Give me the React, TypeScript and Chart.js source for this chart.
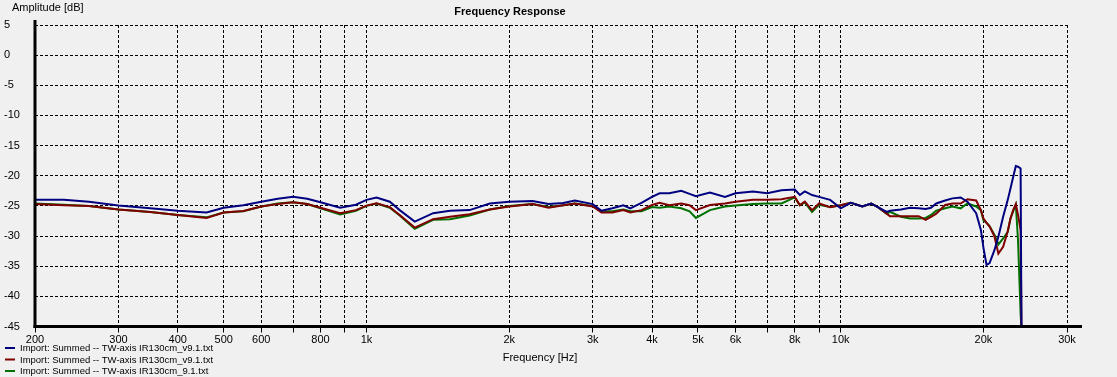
import React, { useEffect, useRef } from 'react';
import { Chart, registerables } from 'chart.js';

Chart.register(...registerables);

const freqs = [
  200, 230, 260, 300, 350, 400, 460, 500, 550, 600, 650, 700, 750, 800, 880, 950,
  1000, 1050, 1120, 1175, 1264, 1382, 1500, 1650, 1820, 2000, 2240, 2420, 2600, 2750,
  3000, 3130, 3300, 3480, 3600, 3800, 4000, 4150, 4350, 4610, 4800, 4950, 5300, 5700,
  6000, 6530, 7000, 7500, 8000, 8200, 8400, 8700, 9000, 9500, 10000, 10500, 11100, 11600,
  12000, 12500, 12700, 13400, 14000, 14600, 15100, 15500, 15900, 16600, 17200, 17900,
  18500, 19300, 19750, 20000, 20300, 20600, 21100, 21500, 22000, 22500, 22800, 23100,
  23400, 23650, 23950, 24050,
];

const blueDb = [
  -24.0, -24.0, -24.3, -24.95, -25.4, -25.8, -26.1, -25.3, -24.9, -24.3, -23.8, -23.5, -23.8, -24.4, -25.3, -24.8,
  -24.0, -23.6, -24.3, -25.7, -27.6, -26.2, -25.8, -25.7, -24.6, -24.3, -24.2, -24.7, -24.5, -24.1,
  -24.7, -25.8, -25.4, -24.9, -25.4, -24.5, -23.5, -22.9, -22.9, -22.5, -23.0, -23.4, -22.8, -23.5,
  -22.9, -22.6, -22.9, -22.4, -22.3, -23.2, -22.6, -23.2, -23.5, -24.0, -25.4, -24.5, -25.1, -24.6,
  -25.25, -26.0, -25.8, -25.6, -25.3, -25.4, -25.5, -25.3, -24.6, -24.1, -23.75, -23.6,
  -24.3, -26.2, -29.0, -32.0, -34.8, -34.5, -32.3, -30.1, -26.8, -24.0, -22.1, -20.2,
  -18.4, -18.5, -18.8, -45.5,
];

const redDb = [
  -24.7, -24.9, -25.0, -25.6, -26.0, -26.5, -27.0, -26.1, -25.85, -25.1, -24.7, -24.4, -24.7, -25.3, -26.2, -25.7,
  -24.95, -24.55, -25.2, -26.5, -28.6, -27.2, -26.8, -26.4, -25.6, -25.1, -24.7, -25.3, -24.9, -24.6,
  -25.1, -26.1, -26.1, -25.7, -26.1, -25.7, -24.85, -24.5, -24.9, -24.6, -24.9, -25.7, -24.85, -24.6,
  -24.3, -24.0, -24.0, -23.9, -23.5, -24.85, -24.3, -25.7, -24.6, -25.2, -24.9, -24.5, -25.1, -24.6,
  -25.25, -26.3, -26.7, -26.7, -26.7, -26.7, -27.3, -26.8, -26.3, -24.85, -24.6, -24.6,
  -23.9, -24.1, -25.7, -27.1, -27.8, -28.4, -30.1, -32.9, -31.8, -29.2, -27.1, -25.7,
  -24.7, -26.5, -29.0, -45.5,
];

const greenDb = [
  -24.6, -24.8, -25.0, -25.6, -26.0, -26.5, -26.9, -26.1, -25.9, -25.1, -24.6, -24.4, -24.7, -25.4, -26.4, -25.8,
  -25.0, -24.6, -25.3, -26.6, -28.8, -27.3, -27.2, -26.6, -25.6, -25.0, -24.7, -25.2, -24.9, -24.6,
  -25.0, -25.9, -25.9, -25.6, -25.9, -25.9, -25.2, -25.3, -25.1, -25.4, -25.9, -27.0, -25.7, -25.1,
  -24.95, -24.7, -24.6, -24.6, -23.6, -24.9, -24.4, -26.0, -24.8, -25.2, -24.9, -24.5, -25.1, -24.6,
  -25.25, -26.3, -26.0, -26.8, -27.1, -27.1, -27.0, -26.5, -25.8, -25.4, -25.1, -25.4,
  -24.6, -25.1, -25.7, -27.4, -27.8, -28.4, -29.8, -31.4, -30.4, -29.3, -27.1, -25.9,
  -24.8, -30.7, -42.9, -45.5,
];

const gridFreqs = [200, 300, 400, 500, 600, 700, 800, 900, 1000, 2000, 3000, 4000, 5000, 6000, 7000, 8000, 9000, 10000, 20000, 30000];
const tickLabels: Record<number, string> = {
  200: '200', 300: '300', 400: '400', 500: '500', 600: '600', 800: '800', 1000: '1k',
  2000: '2k', 3000: '3k', 4000: '4k', 5000: '5k', 6000: '6k', 8000: '8k', 10000: '10k',
  20000: '20k', 30000: '30k',
};

const seriesNames = [
  'Import: Summed -- TW-axis IR130cm_v9.1.txt',
  'Import: Summed -- TW-axis IR130cm_v9.1.txt',
  'Import: Summed -- TW-axis IR130cm_9.1.txt',
];
const seriesColors = ['#000080', '#800000', '#007000'];
const seriesValues = [blueDb, redDb, greenDb];

const chartTitle = 'Frequency Response';
const yTitle = 'Amplitude [dB]';
const xTitle = 'Frequency [Hz]';

const FONT = '"Liberation Sans", Arial, sans-serif';

const decor = {
  id: 'decor',
  beforeDraw(chart: any) {
    const { ctx, width, height } = chart;
    ctx.save();
    ctx.fillStyle = '#F0F0F0';
    ctx.fillRect(0, 0, width, height);
    ctx.restore();
  },
  afterDraw(chart: any) {
    const { ctx, chartArea } = chart;
    ctx.save();
    ctx.strokeStyle = '#000';
    ctx.lineWidth = 3;
    ctx.beginPath();
    ctx.moveTo(chartArea.left, 20);
    ctx.lineTo(chartArea.left, chartArea.bottom + 1.5);
    ctx.stroke();
    ctx.beginPath();
    ctx.moveTo(chartArea.left - 1.5, chartArea.bottom);
    ctx.lineTo(1082, chartArea.bottom);
    ctx.stroke();

    ctx.fillStyle = '#000';
    ctx.textBaseline = 'middle';
    ctx.textAlign = 'center';
    ctx.font = `bold 11px ${FONT}`;
    ctx.fillText(chartTitle, 510, 12);
    ctx.font = `11px ${FONT}`;
    ctx.textAlign = 'left';
    ctx.fillText(yTitle, 12, 8);
    ctx.textAlign = 'center';
    ctx.fillText(xTitle, 540, 358);

    ctx.font = `9.5px ${FONT}`;
    ctx.textAlign = 'left';
    const ys = [348, 359.5, 371];
    seriesNames.forEach((name, i) => {
      ctx.strokeStyle = seriesColors[i];
      ctx.lineWidth = 2;
      ctx.beginPath();
      ctx.moveTo(5, ys[i]);
      ctx.lineTo(15, ys[i]);
      ctx.stroke();
      ctx.fillStyle = '#000';
      ctx.fillText(name, 20, ys[i] + 0.5);
    });
    ctx.restore();
  },
};

export default function App() {
  const ref = useRef<HTMLCanvasElement | null>(null);

  useEffect(() => {
    if (!ref.current) return;
    const datasets = seriesValues.map((vals, i) => ({
      label: seriesNames[i],
      data: freqs.map((f, j) => ({ x: f, y: vals[j] })),
      borderColor: seriesColors[i],
      backgroundColor: seriesColors[i],
      borderWidth: 2,
      pointRadius: 0,
      tension: 0,
      fill: false,
    }));
    const chart = new Chart(ref.current, {
      type: 'line',
      data: { datasets },
      plugins: [decor],
      options: {
        animation: false,
        responsive: false,
        devicePixelRatio: 1,
        layout: { padding: { left: 4, top: 25, right: 50, bottom: 0 } },
        plugins: {
          legend: { display: false },
          title: { display: false },
          tooltip: { enabled: false },
        },
        scales: {
          x: {
            type: 'logarithmic',
            min: 200,
            max: 30000,
            afterBuildTicks: (scale: any) => {
              scale.ticks = gridFreqs.map((v) => ({ value: v }));
            },
            afterFit: (scale: any) => {
              scale.height = 50.5;
            },
            ticks: {
              autoSkip: false,
              maxRotation: 0,
              minRotation: 0,
              padding: 1,
              color: '#000',
              font: { family: FONT, size: 11 },
              callback: (v: any) => tickLabels[Number(v)] ?? '',
            },
            grid: {
              color: '#000',
              lineWidth: 1,
              tickLength: 6,
              tickColor: '#000',
            },
            border: { display: false, dash: [3, 2] },
          },
          y: {
            type: 'linear',
            min: -45,
            max: 5,
            afterFit: (scale: any) => {
              scale.width = 31;
            },
            ticks: {
              stepSize: 5,
              crossAlign: 'far',
              color: '#000',
              font: { family: FONT, size: 11 },
            },
            grid: {
              color: '#000',
              lineWidth: 1,
              drawTicks: false,
            },
            border: { display: false, dash: [3, 2] },
          },
        },
      },
    } as any);
    return () => chart.destroy();
  }, []);

  return (
    <div style={{ position: 'fixed', left: 0, top: 0, width: 1117, height: 377, background: '#F0F0F0' }}>
      <canvas ref={ref} width={1117} height={377} style={{ display: 'block', width: 1117, height: 377 }} />
    </div>
  );
}
